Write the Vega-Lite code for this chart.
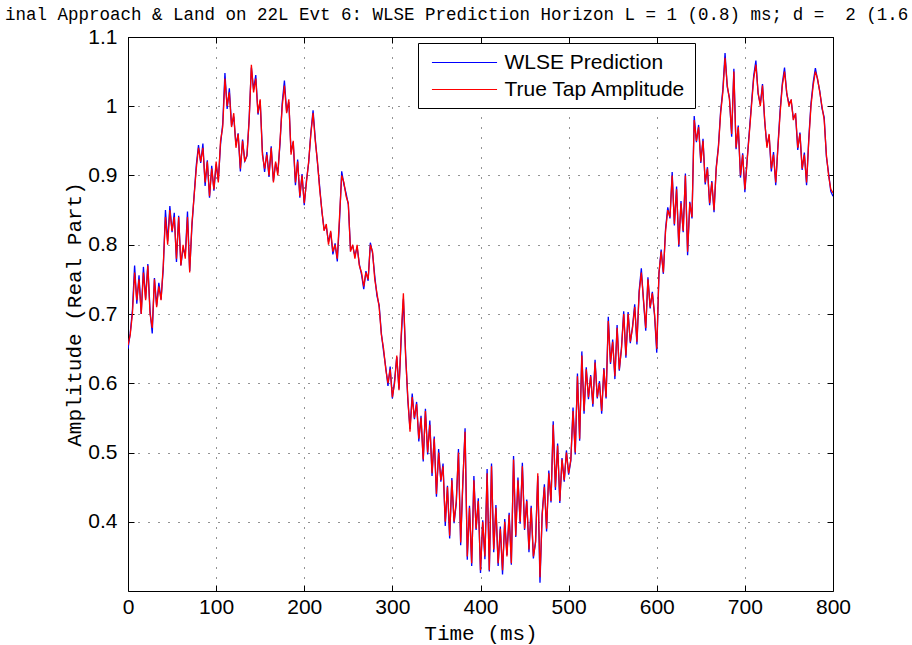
{
  "$schema": "https://vega.github.io/schema/vega-lite/v6.json",
  "width": 705,
  "height": 554,
  "autosize": {"type": "none"},
  "padding": {"left": 128, "top": 37, "right": 79, "bottom": 54},
  "background": "white",
  "title": {
    "text": "inal Approach & Land on 22L Evt 6: WLSE Prediction Horizon L = 1 (0.8) ms; d = \u00a02 (1.6",
    "anchor": "start",
    "frame": "group",
    "dx": -123,
    "dy": 15,
    "font": "Liberation Mono",
    "fontSize": 17.5,
    "fontWeight": "normal",
    "color": "black",
    "baseline": "alphabetic",
    "offset": 4
  },
  "config": {
    "view": {"stroke": "black", "strokeWidth": 1},
    "axis": {
      "domain": false,
      "grid": false,
      "tickColor": "black",
      "tickSize": -6,
      "tickWidth": 1,
      "labelColor": "black",
      "labelFont": "Liberation Sans",
      "labelFontSize": 21,
      "labelFlush": false,
      "labelOverlap": false,
      "titleColor": "black",
      "titleFont": "Liberation Mono",
      "titleFontSize": 21,
      "titleFontWeight": "normal"
    },
    "legend": {
      "orient": "none",
      "legendX": 290,
      "legendY": 6,
      "strokeColor": "black",
      "fillColor": "white"
    }
  },
  "data": {
    "values": [
      {"t":0,"truth":0.655,"wlse":0.65},{"t":2.5,"truth":0.67,"wlse":0.672},{"t":5,"truth":0.7,"wlse":0.705},{"t":7.5,"truth":0.76,"wlse":0.77},
      {"t":10,"truth":0.72,"wlse":0.715},{"t":12.5,"truth":0.75,"wlse":0.756},{"t":15,"truth":0.7,"wlse":0.7},{"t":17.5,"truth":0.76,"wlse":0.768},
      {"t":20,"truth":0.72,"wlse":0.722},{"t":22.5,"truth":0.77,"wlse":0.772},{"t":25,"truth":0.7,"wlse":0.705},{"t":27.5,"truth":0.68,"wlse":0.672},
      {"t":30,"truth":0.75,"wlse":0.752},{"t":32.5,"truth":0.71,"wlse":0.712},{"t":35,"truth":0.74,"wlse":0.745},{"t":37.5,"truth":0.72,"wlse":0.721},
      {"t":40,"truth":0.77,"wlse":0.765},{"t":42.5,"truth":0.84,"wlse":0.85},{"t":45,"truth":0.8,"wlse":0.805},{"t":47.5,"truth":0.85,"wlse":0.856},
      {"t":50,"truth":0.82,"wlse":0.818},{"t":52.5,"truth":0.84,"wlse":0.846},{"t":55,"truth":0.78,"wlse":0.775},{"t":57.5,"truth":0.84,"wlse":0.842},
      {"t":60,"truth":0.77,"wlse":0.77},{"t":62.5,"truth":0.8,"wlse":0.796},{"t":65,"truth":0.78,"wlse":0.784},{"t":67.5,"truth":0.84,"wlse":0.848},
      {"t":70,"truth":0.76,"wlse":0.762},{"t":72.5,"truth":0.83,"wlse":0.826},{"t":75,"truth":0.87,"wlse":0.871},{"t":77.5,"truth":0.91,"wlse":0.915},
      {"t":80,"truth":0.94,"wlse":0.944},{"t":82.5,"truth":0.92,"wlse":0.918},{"t":85,"truth":0.94,"wlse":0.946},{"t":87.5,"truth":0.89,"wlse":0.885},
      {"t":90,"truth":0.92,"wlse":0.922},{"t":92.5,"truth":0.87,"wlse":0.868},{"t":95,"truth":0.91,"wlse":0.914},{"t":97.5,"truth":0.88,"wlse":0.878},
      {"t":100,"truth":0.92,"wlse":0.916},{"t":102.5,"truth":0.89,"wlse":0.893},{"t":105,"truth":0.95,"wlse":0.945},{"t":107.5,"truth":0.97,"wlse":0.975},
      {"t":110,"truth":1.04,"wlse":1.048},{"t":112.5,"truth":1.0,"wlse":0.996},{"t":115,"truth":1.02,"wlse":1.026},{"t":117.5,"truth":0.97,"wlse":0.972},
      {"t":120,"truth":0.99,"wlse":0.985},{"t":122.5,"truth":0.94,"wlse":0.944},{"t":125,"truth":0.96,"wlse":0.961},{"t":127.5,"truth":0.91,"wlse":0.906},
      {"t":130,"truth":0.95,"wlse":0.952},{"t":132.5,"truth":0.92,"wlse":0.921},{"t":135,"truth":0.93,"wlse":0.928},{"t":137.5,"truth":0.98,"wlse":0.983},
      {"t":140,"truth":1.06,"wlse":1.056},{"t":142.5,"truth":1.02,"wlse":1.024},{"t":145,"truth":1.04,"wlse":1.045},{"t":147.5,"truth":0.99,"wlse":0.988},
      {"t":150,"truth":1.01,"wlse":1.008},{"t":152.5,"truth":0.93,"wlse":0.935},{"t":155,"truth":0.91,"wlse":0.905},{"t":157.5,"truth":0.93,"wlse":0.934},
      {"t":160,"truth":0.9,"wlse":0.898},{"t":162.5,"truth":0.94,"wlse":0.942},{"t":165,"truth":0.89,"wlse":0.892},{"t":167.5,"truth":0.92,"wlse":0.918},
      {"t":170,"truth":0.9,"wlse":0.904},{"t":172.5,"truth":0.95,"wlse":0.946},{"t":175,"truth":1.0,"wlse":1.005},{"t":177.5,"truth":1.03,"wlse":1.037},
      {"t":180,"truth":0.99,"wlse":0.992},{"t":182.5,"truth":1.01,"wlse":1.006},{"t":185,"truth":0.93,"wlse":0.934},{"t":187.5,"truth":0.95,"wlse":0.948},
      {"t":190,"truth":0.89,"wlse":0.886},{"t":192.5,"truth":0.92,"wlse":0.923},{"t":195,"truth":0.87,"wlse":0.868},{"t":197.5,"truth":0.9,"wlse":0.902},
      {"t":200,"truth":0.86,"wlse":0.857},{"t":202.5,"truth":0.89,"wlse":0.893},{"t":205,"truth":0.92,"wlse":0.918},{"t":207.5,"truth":0.96,"wlse":0.962},
      {"t":210,"truth":0.99,"wlse":0.994},{"t":212.5,"truth":0.95,"wlse":0.953},{"t":215,"truth":0.92,"wlse":0.918},{"t":217.5,"truth":0.88,"wlse":0.884},
      {"t":220,"truth":0.85,"wlse":0.848},{"t":222.5,"truth":0.82,"wlse":0.823},{"t":225,"truth":0.83,"wlse":0.826},{"t":227.5,"truth":0.8,"wlse":0.804},
      {"t":230,"truth":0.82,"wlse":0.818},{"t":232.5,"truth":0.79,"wlse":0.786},{"t":235,"truth":0.8,"wlse":0.802},{"t":237.5,"truth":0.78,"wlse":0.776},
      {"t":240,"truth":0.84,"wlse":0.834},{"t":242.5,"truth":0.9,"wlse":0.906},{"t":245,"truth":0.89,"wlse":0.887},{"t":247.5,"truth":0.87,"wlse":0.874},
      {"t":250,"truth":0.86,"wlse":0.858},{"t":252.5,"truth":0.79,"wlse":0.793},{"t":255,"truth":0.8,"wlse":0.798},{"t":257.5,"truth":0.78,"wlse":0.784},
      {"t":260,"truth":0.8,"wlse":0.797},{"t":262.5,"truth":0.77,"wlse":0.772},{"t":265,"truth":0.76,"wlse":0.757},{"t":267.5,"truth":0.74,"wlse":0.736},
      {"t":270,"truth":0.76,"wlse":0.762},{"t":272.5,"truth":0.75,"wlse":0.748},{"t":275,"truth":0.8,"wlse":0.803},{"t":277.5,"truth":0.79,"wlse":0.788},
      {"t":280,"truth":0.75,"wlse":0.755},{"t":282.5,"truth":0.73,"wlse":0.726},{"t":285,"truth":0.71,"wlse":0.713},{"t":287.5,"truth":0.67,"wlse":0.672},
      {"t":290,"truth":0.65,"wlse":0.646},{"t":292.5,"truth":0.62,"wlse":0.623},{"t":295,"truth":0.6,"wlse":0.596},{"t":297.5,"truth":0.62,"wlse":0.624},
      {"t":300,"truth":0.58,"wlse":0.578},{"t":302.5,"truth":0.6,"wlse":0.604},{"t":305,"truth":0.64,"wlse":0.638},{"t":307.5,"truth":0.59,"wlse":0.592},
      {"t":310,"truth":0.67,"wlse":0.664},{"t":312.5,"truth":0.73,"wlse":0.722},{"t":315,"truth":0.64,"wlse":0.643},{"t":317.5,"truth":0.58,"wlse":0.576},
      {"t":320,"truth":0.53,"wlse":0.534},{"t":322.5,"truth":0.58,"wlse":0.585},{"t":325,"truth":0.55,"wlse":0.548},{"t":327.5,"truth":0.57,"wlse":0.573},
      {"t":330,"truth":0.52,"wlse":0.516},{"t":332.5,"truth":0.55,"wlse":0.553},{"t":335,"truth":0.49,"wlse":0.487},{"t":337.5,"truth":0.56,"wlse":0.563},
      {"t":340,"truth":0.5,"wlse":0.497},{"t":342.5,"truth":0.54,"wlse":0.546},{"t":345,"truth":0.47,"wlse":0.466},{"t":347.5,"truth":0.52,"wlse":0.523},
      {"t":350,"truth":0.44,"wlse":0.436},{"t":352.5,"truth":0.5,"wlse":0.505},{"t":355,"truth":0.46,"wlse":0.458},{"t":357.5,"truth":0.48,"wlse":0.484},
      {"t":360,"truth":0.4,"wlse":0.394},{"t":362.5,"truth":0.45,"wlse":0.452},{"t":365,"truth":0.38,"wlse":0.376},{"t":367.5,"truth":0.46,"wlse":0.463},
      {"t":370,"truth":0.4,"wlse":0.398},{"t":372.5,"truth":0.43,"wlse":0.426},{"t":375,"truth":0.5,"wlse":0.505},{"t":377.5,"truth":0.37,"wlse":0.366},
      {"t":380,"truth":0.46,"wlse":0.458},{"t":382.5,"truth":0.53,"wlse":0.535},{"t":385,"truth":0.35,"wlse":0.345},{"t":387.5,"truth":0.42,"wlse":0.423},
      {"t":390,"truth":0.34,"wlse":0.336},{"t":392.5,"truth":0.46,"wlse":0.466},{"t":395,"truth":0.39,"wlse":0.388},{"t":397.5,"truth":0.43,"wlse":0.434},
      {"t":400,"truth":0.33,"wlse":0.326},{"t":402.5,"truth":0.4,"wlse":0.402},{"t":405,"truth":0.35,"wlse":0.346},{"t":407.5,"truth":0.47,"wlse":0.476},
      {"t":410,"truth":0.33,"wlse":0.328},{"t":412.5,"truth":0.48,"wlse":0.484},{"t":415,"truth":0.36,"wlse":0.356},{"t":417.5,"truth":0.42,"wlse":0.424},
      {"t":420,"truth":0.34,"wlse":0.336},{"t":422.5,"truth":0.39,"wlse":0.393},{"t":425,"truth":0.33,"wlse":0.324},{"t":427.5,"truth":0.4,"wlse":0.404},
      {"t":430,"truth":0.35,"wlse":0.352},{"t":432.5,"truth":0.41,"wlse":0.413},{"t":435,"truth":0.34,"wlse":0.338},{"t":437.5,"truth":0.49,"wlse":0.495},
      {"t":440,"truth":0.38,"wlse":0.378},{"t":442.5,"truth":0.46,"wlse":0.464},{"t":445,"truth":0.4,"wlse":0.397},{"t":447.5,"truth":0.48,"wlse":0.485},
      {"t":450,"truth":0.39,"wlse":0.388},{"t":452.5,"truth":0.43,"wlse":0.432},{"t":455,"truth":0.36,"wlse":0.356},{"t":457.5,"truth":0.42,"wlse":0.423},
      {"t":460,"truth":0.35,"wlse":0.347},{"t":462.5,"truth":0.37,"wlse":0.372},{"t":465,"truth":0.47,"wlse":0.466},{"t":467.5,"truth":0.32,"wlse":0.312},
      {"t":470,"truth":0.41,"wlse":0.412},{"t":472.5,"truth":0.45,"wlse":0.454},{"t":475,"truth":0.39,"wlse":0.386},{"t":477.5,"truth":0.47,"wlse":0.474},
      {"t":480,"truth":0.43,"wlse":0.428},{"t":482.5,"truth":0.54,"wlse":0.545},{"t":485,"truth":0.45,"wlse":0.446},{"t":487.5,"truth":0.51,"wlse":0.513},
      {"t":490,"truth":0.43,"wlse":0.427},{"t":492.5,"truth":0.49,"wlse":0.492},{"t":495,"truth":0.46,"wlse":0.458},{"t":497.5,"truth":0.5,"wlse":0.503},
      {"t":500,"truth":0.47,"wlse":0.468},{"t":502.5,"truth":0.49,"wlse":0.488},{"t":505,"truth":0.56,"wlse":0.565},{"t":507.5,"truth":0.5,"wlse":0.497},
      {"t":510,"truth":0.61,"wlse":0.614},{"t":512.5,"truth":0.52,"wlse":0.517},{"t":515,"truth":0.64,"wlse":0.646},{"t":517.5,"truth":0.56,"wlse":0.556},
      {"t":520,"truth":0.62,"wlse":0.623},{"t":522.5,"truth":0.58,"wlse":0.577},{"t":525,"truth":0.61,"wlse":0.612},{"t":527.5,"truth":0.57,"wlse":0.566},
      {"t":530,"truth":0.63,"wlse":0.634},{"t":532.5,"truth":0.58,"wlse":0.578},{"t":535,"truth":0.6,"wlse":0.603},{"t":537.5,"truth":0.56,"wlse":0.556},
      {"t":540,"truth":0.62,"wlse":0.622},{"t":542.5,"truth":0.58,"wlse":0.578},{"t":545,"truth":0.69,"wlse":0.696},{"t":547.5,"truth":0.63,"wlse":0.628},
      {"t":550,"truth":0.66,"wlse":0.663},{"t":552.5,"truth":0.61,"wlse":0.606},{"t":555,"truth":0.68,"wlse":0.684},{"t":557.5,"truth":0.62,"wlse":0.618},
      {"t":560,"truth":0.65,"wlse":0.652},{"t":562.5,"truth":0.7,"wlse":0.704},{"t":565,"truth":0.64,"wlse":0.637},{"t":567.5,"truth":0.7,"wlse":0.703},
      {"t":570,"truth":0.66,"wlse":0.658},{"t":572.5,"truth":0.68,"wlse":0.682},{"t":575,"truth":0.71,"wlse":0.714},{"t":577.5,"truth":0.66,"wlse":0.656},
      {"t":580,"truth":0.73,"wlse":0.733},{"t":582.5,"truth":0.76,"wlse":0.766},{"t":585,"truth":0.72,"wlse":0.718},{"t":587.5,"truth":0.68,"wlse":0.676},
      {"t":590,"truth":0.75,"wlse":0.753},{"t":592.5,"truth":0.71,"wlse":0.708},{"t":595,"truth":0.73,"wlse":0.732},{"t":597.5,"truth":0.7,"wlse":0.698},
      {"t":600,"truth":0.65,"wlse":0.644},{"t":602.5,"truth":0.76,"wlse":0.758},{"t":605,"truth":0.79,"wlse":0.793},{"t":607.5,"truth":0.76,"wlse":0.758},
      {"t":610,"truth":0.82,"wlse":0.823},{"t":612.5,"truth":0.85,"wlse":0.854},{"t":615,"truth":0.84,"wlse":0.838},{"t":617.5,"truth":0.9,"wlse":0.905},
      {"t":620,"truth":0.83,"wlse":0.828},{"t":622.5,"truth":0.88,"wlse":0.884},{"t":625,"truth":0.8,"wlse":0.797},{"t":627.5,"truth":0.86,"wlse":0.863},
      {"t":630,"truth":0.82,"wlse":0.818},{"t":632.5,"truth":0.9,"wlse":0.903},{"t":635,"truth":0.79,"wlse":0.785},{"t":637.5,"truth":0.86,"wlse":0.862},
      {"t":640,"truth":0.84,"wlse":0.838},{"t":642.5,"truth":0.98,"wlse":0.986},{"t":645,"truth":0.95,"wlse":0.948},{"t":647.5,"truth":0.97,"wlse":0.973},
      {"t":650,"truth":0.92,"wlse":0.918},{"t":652.5,"truth":0.95,"wlse":0.953},{"t":655,"truth":0.89,"wlse":0.887},{"t":657.5,"truth":0.91,"wlse":0.912},
      {"t":660,"truth":0.86,"wlse":0.857},{"t":662.5,"truth":0.89,"wlse":0.892},{"t":665,"truth":0.85,"wlse":0.847},{"t":667.5,"truth":0.91,"wlse":0.912},
      {"t":670,"truth":0.94,"wlse":0.943},{"t":672.5,"truth":0.99,"wlse":0.993},{"t":675,"truth":1.02,"wlse":1.024},{"t":677.5,"truth":1.07,"wlse":1.077},
      {"t":680,"truth":1.03,"wlse":1.028},{"t":682.5,"truth":1.01,"wlse":1.012},{"t":685,"truth":0.96,"wlse":0.956},{"t":687.5,"truth":1.05,"wlse":1.054},
      {"t":690,"truth":0.94,"wlse":0.938},{"t":692.5,"truth":0.97,"wlse":0.972},{"t":695,"truth":0.9,"wlse":0.897},{"t":697.5,"truth":0.93,"wlse":0.932},
      {"t":700,"truth":0.88,"wlse":0.876},{"t":702.5,"truth":0.92,"wlse":0.922},{"t":705,"truth":0.96,"wlse":0.963},{"t":707.5,"truth":1.0,"wlse":1.004},
      {"t":710,"truth":1.04,"wlse":1.044},{"t":712.5,"truth":1.06,"wlse":1.066},{"t":715,"truth":1.02,"wlse":1.018},{"t":717.5,"truth":1.0,"wlse":1.003},
      {"t":720,"truth":1.03,"wlse":1.032},{"t":722.5,"truth":0.98,"wlse":0.978},{"t":725,"truth":0.94,"wlse":0.943},{"t":727.5,"truth":0.96,"wlse":0.958},
      {"t":730,"truth":0.91,"wlse":0.906},{"t":732.5,"truth":0.93,"wlse":0.934},{"t":735,"truth":0.89,"wlse":0.886},{"t":737.5,"truth":0.94,"wlse":0.943},
      {"t":740,"truth":0.99,"wlse":0.994},{"t":742.5,"truth":1.03,"wlse":1.033},{"t":745,"truth":1.05,"wlse":1.056},{"t":747.5,"truth":1.02,"wlse":1.018},
      {"t":750,"truth":1.0,"wlse":1.004},{"t":752.5,"truth":1.01,"wlse":1.008},{"t":755,"truth":0.98,"wlse":0.983},{"t":757.5,"truth":0.99,"wlse":0.988},
      {"t":760,"truth":0.94,"wlse":0.937},{"t":762.5,"truth":0.96,"wlse":0.962},{"t":765,"truth":0.91,"wlse":0.908},{"t":767.5,"truth":0.93,"wlse":0.933},
      {"t":770,"truth":0.89,"wlse":0.886},{"t":772.5,"truth":0.95,"wlse":0.953},{"t":775,"truth":1.0,"wlse":1.004},{"t":777.5,"truth":1.03,"wlse":1.034},
      {"t":780,"truth":1.05,"wlse":1.055},{"t":782.5,"truth":1.04,"wlse":1.038},{"t":785,"truth":1.02,"wlse":1.022},{"t":787.5,"truth":1.0,"wlse":0.997},
      {"t":790,"truth":0.98,"wlse":0.984},{"t":792.5,"truth":0.93,"wlse":0.927},{"t":795,"truth":0.9,"wlse":0.903},{"t":797.5,"truth":0.88,"wlse":0.877},
      {"t":800,"truth":0.875,"wlse":0.87}
    ]
  },
  "transform": [{"fold": ["wlse", "truth"], "as": ["series", "amp"]}],
  "layer": [
    {
      "mark": {"type": "line", "strokeWidth": 1.3, "clip": true},
      "encoding": {
        "x": {
          "field": "t",
          "type": "quantitative",
          "scale": {"domain": [0, 800], "nice": false},
          "axis": {
            "orient": "bottom",
            "values": [0, 100, 200, 300, 400, 500, 600, 700, 800],
            "grid": true,
            "gridColor": "black",
            "gridDash": [1, 9],
            "gridOpacity": 0.85,
            "labelPadding": 11,
            "title": "Time (ms)",
            "titleX": 352.5,
            "titleY": 48,
            "titleBaseline": "alphabetic"
          }
        },
        "y": {
          "field": "amp",
          "type": "quantitative",
          "scale": {"domain": [0.3, 1.1], "nice": false, "zero": false},
          "axis": {
            "orient": "left",
            "values": [0.4, 0.5, 0.6, 0.7, 0.8, 0.9, 1.0, 1.1],
            "format": "~g",
            "grid": true,
            "gridColor": "black",
            "gridDash": [1, 9],
            "gridOpacity": 0.85,
            "labelPadding": 17,
            "title": "Amplitude (Real Part)",
            "titleX": -48,
            "titleY": 277,
            "titleAngle": -90,
            "titleBaseline": "alphabetic"
          }
        },
        "color": {
          "field": "series",
          "type": "nominal",
          "scale": {"domain": ["wlse", "truth"], "range": ["#0000ff", "#ff0000"]},
          "legend": {
            "title": null,
            "labelExpr": "datum.label == 'wlse' ? 'WLSE Prediction' : 'True Tap Amplitude'",
            "symbolType": "M-3.1,0H3.1",
            "symbolSize": 441,
            "symbolStrokeWidth": 1,
            "symbolOffset": 27,
            "labelFont": "Liberation Sans",
            "labelFontSize": 21,
            "labelColor": "black",
            "labelLimit": 400,
            "labelOffset": 29,
            "padding": 8.5,
            "rowPadding": 6
          }
        }
      }
    },
    {
      "mark": {"type": "line", "opacity": 0},
      "transform": [{"filter": "datum.series == 'truth'"}],
      "encoding": {
        "x": {
          "field": "t",
          "type": "quantitative",
          "axis": {"orient": "top", "values": [0, 100, 200, 300, 400, 500, 600, 700, 800], "labels": false, "title": null}
        },
        "y": {
          "field": "amp",
          "type": "quantitative",
          "axis": {"orient": "right", "values": [0.4, 0.5, 0.6, 0.7, 0.8, 0.9, 1.0, 1.1], "labels": false, "title": null}
        }
      }
    }
  ],
  "resolve": {"axis": {"x": "independent", "y": "independent"}}
}
